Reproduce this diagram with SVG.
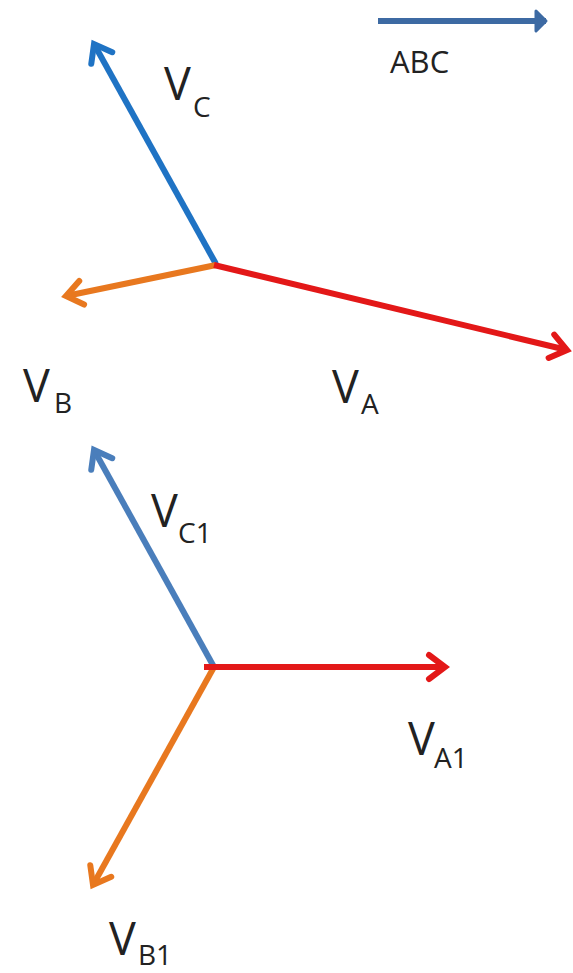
<svg xmlns="http://www.w3.org/2000/svg" width="573" height="973" viewBox="0 0 573 973">
<style>
.v{stroke-width:6;fill:none;stroke-linecap:butt}
.lbl{font-family:"Open Sans","Liberation Sans",sans-serif;fill:#222}
.big{font-size:45px}
.sub{font-size:28px}
</style>
<defs>
<marker id="mRed" markerUnits="userSpaceOnUse" viewBox="-20 -14 24 28" refX="0" refY="0" markerWidth="24" markerHeight="28" orient="auto" overflow="visible"><path d="M-16-12L0 0L-16 12" fill="none" stroke="#e31818" stroke-width="6" stroke-linecap="round"/></marker>
<marker id="mOrange" markerUnits="userSpaceOnUse" viewBox="-20 -14 24 28" refX="0" refY="0" markerWidth="24" markerHeight="28" orient="auto" overflow="visible"><path d="M-16-12L0 0L-16 12" fill="none" stroke="#e8781f" stroke-width="6" stroke-linecap="round"/></marker>
<marker id="mBlue" markerUnits="userSpaceOnUse" viewBox="-20 -14 24 28" refX="0" refY="0" markerWidth="24" markerHeight="28" orient="auto" overflow="visible"><path d="M-16-12L0 0L-16 12" fill="none" stroke="#1f73c4" stroke-width="6" stroke-linecap="round"/></marker>
<marker id="mSteel" markerUnits="userSpaceOnUse" viewBox="-20 -14 24 28" refX="0" refY="0" markerWidth="24" markerHeight="28" orient="auto" overflow="visible"><path d="M-16-12L0 0L-16 12" fill="none" stroke="#4a7ebb" stroke-width="6" stroke-linecap="round"/></marker>
<marker id="mNavy" markerUnits="userSpaceOnUse" viewBox="-20 -14 24 28" refX="0" refY="0" markerWidth="24" markerHeight="28" orient="auto" overflow="visible"><path d="M-10-10L0 0L-10 10Z" fill="#3d6aa3" stroke="#3d6aa3" stroke-width="3" stroke-linejoin="round"/></marker>
</defs>
<g id="connectors">
<line id="abc-arrow" class="v" x1="378" y1="21" x2="546" y2="21" stroke="#3d6aa3" stroke-width="7" marker-end="url(#mNavy)"/>
<line id="VC" class="v" x1="216" y1="264" x2="94" y2="44" stroke="#1f73c4" marker-end="url(#mBlue)"/>
<line id="VB" class="v" x1="216" y1="265" x2="66" y2="296" stroke="#e8781f" marker-end="url(#mOrange)"/>
<line id="VA" class="v" x1="214" y1="265" x2="567" y2="350" stroke="#e31818" marker-end="url(#mRed)"/>
<line id="VC1" class="v" x1="214" y1="667" x2="94" y2="450" stroke="#4a7ebb" marker-end="url(#mSteel)"/>
<line id="VB1" class="v" x1="214" y1="667" x2="93" y2="885" stroke="#e8781f" marker-end="url(#mOrange)"/>
<line id="VA1" class="v" x1="204" y1="667" x2="445" y2="667" stroke="#e31818" marker-end="url(#mRed)"/>
</g>
<g id="label-abc"><text class="lbl" x="390" y="73" font-size="31">ABC</text></g>
<g id="label-vc"><text class="lbl big" x="164" y="100">V</text><text class="lbl sub" x="193" y="117">C</text></g>
<g id="label-vb"><text class="lbl big" x="23" y="402">V</text><text class="lbl sub" x="54" y="413">B</text></g>
<g id="label-va"><text class="lbl big" x="332" y="403">V</text><text class="lbl sub" x="361" y="414">A</text></g>
<g id="label-vc1"><text class="lbl big" x="151" y="527">V</text><text class="lbl sub" x="178" y="543">C1</text></g>
<g id="label-va1"><text class="lbl big" x="408" y="755">V</text><text class="lbl sub" x="434" y="768">A1</text></g>
<g id="label-vb1"><text class="lbl big" x="109" y="955">V</text><text class="lbl sub" x="138" y="965">B1</text></g>
</svg>
